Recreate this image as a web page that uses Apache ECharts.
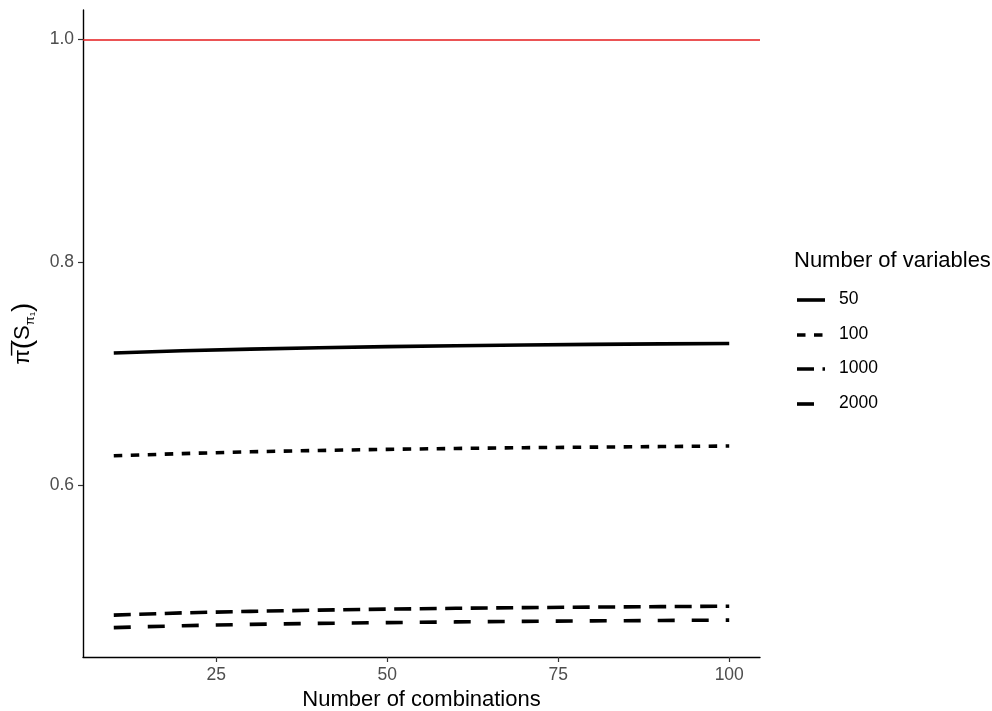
<!DOCTYPE html>
<html><head><meta charset="utf-8">
<script src="https://cdn.jsdelivr.net/npm/echarts@6/dist/echarts.min.js"></script>
<style>html,body{margin:0;padding:0;background:#fff}#c{width:992px;height:711px}</style>
</head><body><div id="c"></div>
<script>
const combinations = [10, 20, 30, 40, 50, 60, 70, 80, 90, 100];
const v50   = [0.7185, 0.7205, 0.7220, 0.7232, 0.7242, 0.7250, 0.7257, 0.7262, 0.7267, 0.7270];
const v100  = [0.6262, 0.6282, 0.6298, 0.6310, 0.6320, 0.6328, 0.6335, 0.6340, 0.6345, 0.6350];
const v1000 = [0.4832, 0.4852, 0.4866, 0.4877, 0.4886, 0.4893, 0.4899, 0.4904, 0.4908, 0.4912];
const v2000 = [0.4720, 0.4737, 0.4749, 0.4758, 0.4765, 0.4771, 0.4776, 0.4780, 0.4784, 0.4787];
const seriesNames = ['50', '100', '1000', '2000'];
const xTicks = [25, 50, 75, 100];
const yTicks = [0.6, 0.8, 1.0];
const reference = 1.0;

const dashes = ['solid', [8.5, 8.5], [17, 8.5], [17, 17]];
const values = [v50, v100, v1000, v2000];
const FONT = 'Liberation Sans, Arial, sans-serif';

const chart = echarts.init(document.getElementById('c'));
const series = values.map((vals, i) => ({
  name: seriesNames[i],
  type: 'line',
  data: combinations.map((x, j) => [x, vals[j]]),
  showSymbol: false,
  symbol: 'none',
  smooth: false,
  lineStyle: {color: '#000', width: 3.6, type: dashes[i], cap: 'butt'},
  z: 3,
  silent: true
}));
series.push({
  type: 'line', data: [], silent: true,
  markLine: {
    silent: true, symbol: 'none', label: {show: false},
    lineStyle: {color: '#e41a1c', width: 1.5, type: 'solid'},
    data: [{yAxis: reference}]
  }
});

// legend drawn as graphic
const graphic = [{
  type: 'text', left: 794, top: 250,
  style: {text: 'Number of variables', font: '22px ' + FONT, fill: '#000'}
}];
const rowY = [300, 335, 369, 404];
seriesNames.forEach((n, i) => {
  graphic.push({
    type: 'line',
    shape: {x1: 797, y1: rowY[i], x2: 825, y2: rowY[i]},
    style: {stroke: '#000', lineWidth: 3.6, lineDash: dashes[i] === 'solid' ? null : dashes[i], lineCap: 'butt'}
  });
  graphic.push({
    type: 'text', left: 839, top: rowY[i] - 9.5,
    style: {text: n, font: '17.5px ' + FONT, fill: '#000'}
  });
});

chart.setOption({
  animation: false,
  grid: {left: 83, right: 232, top: 10, bottom: 54, containLabel: false, outerBoundsMode: 'none'},
  xAxis: {
    type: 'value', min: 5.5, max: 104.5,
    name: 'Number of combinations', nameLocation: 'middle', nameGap: 32,
    nameTextStyle: {fontFamily: FONT, fontSize: 22, color: '#000'},
    axisLine: {show: true, onZero: false, lineStyle: {color: '#000', width: 1.4}},
    axisTick: {show: true, length: 5, lineStyle: {color: '#333', width: 1.2}, customValues: xTicks},
    axisLabel: {fontFamily: FONT, fontSize: 17.5, color: '#4d4d4d', margin: 9, customValues: xTicks},
    splitLine: {show: false}
  },
  yAxis: {
    type: 'value', min: 0.4456, max: 1.0264,
    name: '{a|π̅}{p|(}{a|S}{s|π₁}{p|)}', nameLocation: 'middle', nameGap: 46, nameRotate: 90,
    nameTextStyle: {
      fontFamily: FONT, color: '#000',
      rich: {
        a: {fontSize: 22, fontFamily: FONT, color: '#000'},
        p: {fontSize: 28, fontFamily: FONT, color: '#000'},
        s: {fontSize: 13, fontFamily: FONT, color: '#000', verticalAlign: 'bottom', padding: [10, 0, 0, 0]}
      }
    },
    axisLine: {show: true, onZero: false, lineStyle: {color: '#000', width: 1.4}},
    axisTick: {show: true, length: 5, lineStyle: {color: '#333', width: 1.2}, customValues: yTicks},
    axisLabel: {fontFamily: FONT, fontSize: 17.5, color: '#4d4d4d', margin: 9, customValues: yTicks,
      formatter: v => v.toFixed(1)},
    splitLine: {show: false}
  },
  series: series,
  graphic: graphic
});
</script></body></html>
